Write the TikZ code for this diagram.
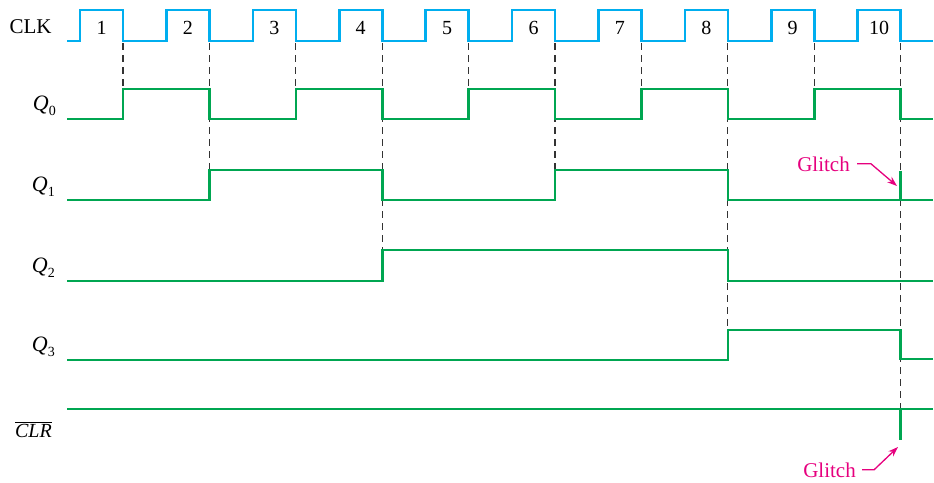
\documentclass[tikz,border=0pt]{standalone}
\usepackage{fontspec}
\setmainfont{Liberation Serif}
\usetikzlibrary{arrows.meta}
\definecolor{clkcol}{HTML}{00AEEF}
\definecolor{wavecol}{HTML}{00A651}
\definecolor{glcol}{HTML}{E6007E}
\definecolor{dashcol}{HTML}{333333}
\begin{document}
\begin{tikzpicture}[x=1pt,y=-1pt,
  clkwave/.style={draw=clkcol,line width=2.6pt,line join=miter},
  qwave/.style={draw=wavecol,line width=2.6pt,line join=miter},
  guide/.style={draw=dashcol,line width=1.2pt,dash pattern=on 7pt off 5pt},
  lbl/.style={inner sep=0pt,font=\fontsize{21}{21}\selectfont},
  glabel/.style={inner sep=0pt,text=glcol,font=\fontsize{21}{21}\selectfont},
  garrow/.style={draw=glcol,line width=1.3pt,-{Stealth[length=10pt,width=7pt]}}]
\useasboundingbox (0,0) rectangle (934,482);
% dashed guides at falling clock edges
\foreach \k/\t in {1/89,2/170,3/89,4/250,5/89,6/170,7/89,8/330,9/89,10/409}{
  \draw[guide] ({123+86.4*(\k-1)},43) -- ({123+86.4*(\k-1)},\t);
}
% clock
\draw[clkwave] (67,41) foreach \k in {1,...,10}{
  -- ({80+86.4*(\k-1)},41) -- ({80+86.4*(\k-1)},10)
  -- ({123+86.4*(\k-1)},10) -- ({123+86.4*(\k-1)},41) } -- (933,41);
\foreach \k in {1,...,10}{
  \node[lbl,anchor=base,font=\fontsize{20}{20}\selectfont] (n\k) at ({101.5+86.4*(\k-1)},34) {\k};
}
% Q0
\draw[qwave] (67,119) -- (123,119) -- (123,89) -- (209.4,89) -- (209.4,119)
  -- (295.8,119) -- (295.8,89) -- (382.2,89) -- (382.2,119) -- (468.6,119)
  -- (468.6,89) -- (555,89) -- (555,119) -- (641.4,119) -- (641.4,89)
  -- (727.8,89) -- (727.8,119) -- (814.2,119) -- (814.2,89) -- (900.6,89)
  -- (900.6,119) -- (933,119);
% Q1
\draw[qwave] (67,200) -- (209.4,200) -- (209.4,170) -- (382.2,170) -- (382.2,200)
  -- (555,200) -- (555,170) -- (727.8,170) -- (727.8,200) -- (933,200);
\draw[qwave] (900.6,200) -- (900.6,171);
% Q2
\draw[qwave] (67,281) -- (382.2,281) -- (382.2,250) -- (727.8,250) -- (727.8,281) -- (933,281);
% Q3
\draw[qwave] (67,360) -- (727.8,360) -- (727.8,330) -- (900.6,330) -- (900.6,359) -- (933,359);
% CLR
\draw[qwave] (67,409) -- (933,409);
\draw[qwave] (900.6,409) -- (900.6,440);
% labels
\node[lbl,anchor=base] (clk) at (30.5,33.5) {CLK};
\node[lbl,anchor=base east] (q0) at (56,110) {\fontsize{22}{22}\selectfont\textit{Q}\raisebox{-5pt}{\fontsize{14}{14}\selectfont 0}};
\node[lbl,anchor=base east] (q1) at (55,191) {\fontsize{22}{22}\selectfont\textit{Q}\raisebox{-5pt}{\fontsize{14}{14}\selectfont 1}};
\node[lbl,anchor=base east] (q2) at (55,272) {\fontsize{22}{22}\selectfont\textit{Q}\raisebox{-5pt}{\fontsize{14}{14}\selectfont 2}};
\node[lbl,anchor=base east] (q3) at (55,351) {\fontsize{22}{22}\selectfont\textit{Q}\raisebox{-5pt}{\fontsize{14}{14}\selectfont 3}};
\node[lbl,anchor=base east] (clr) at (52,437) {$\overline{\mbox{\fontsize{20}{20}\selectfont\textit{CLR}}}$};
% glitch annotations
\node[glabel,anchor=base east] (g1) at (850,171) {Glitch};
\node[glabel,anchor=base east] (g2) at (856,477) {Glitch};
\coordinate (t1) at (897,186);
\coordinate (t2) at (898,447);
\draw[garrow] ([xshift=7pt]g1.east) -- ++(14,0) -- (t1);
\draw[garrow] ([xshift=6pt]g2.east) -- ++(12,0) -- (t2);
\end{tikzpicture}
\end{document}
